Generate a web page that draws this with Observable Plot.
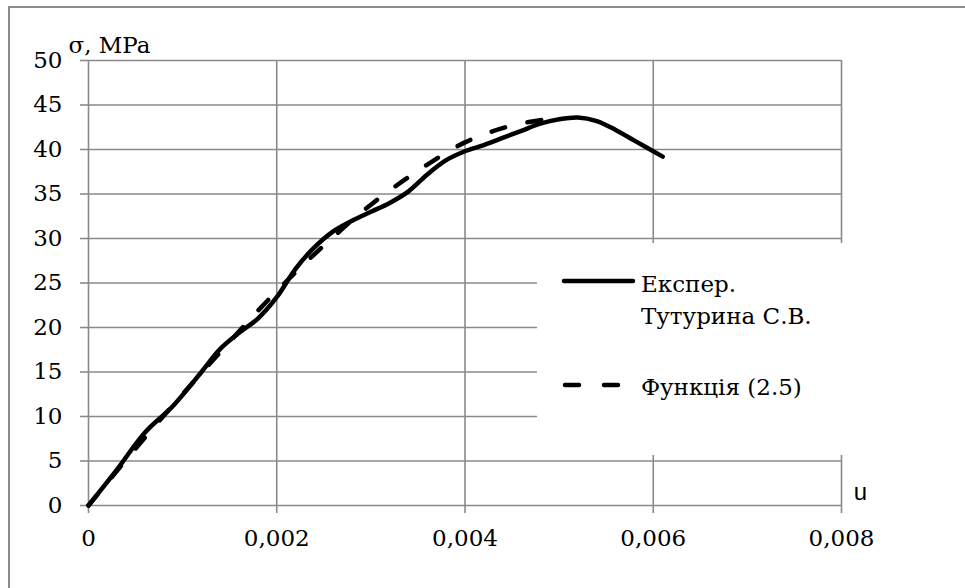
<!DOCTYPE html>
<html>
<head>
<meta charset="utf-8">
<script src="https://cdn.jsdelivr.net/npm/d3@7"></script>
<script src="https://cdn.jsdelivr.net/npm/@observablehq/plot@0.6"></script>
<style>
  html, body { margin: 0; padding: 0; background: #fff; overflow: hidden; }
  #wrap { position: relative; width: 965px; height: 588px; overflow: hidden; background: #fff; }
  #frame { position: absolute; left: 8px; top: 6px; width: 1000px; height: 1000px; border: 2px solid #8b8b8b; box-sizing: border-box; }
  #chart { position: absolute; left: 0; top: 0; }
  #legend { position: absolute; left: 537px; top: 243px; width: 330px; height: 212px; background: #fff;
            font-family: "DejaVu Serif", serif; font-size: 23px; line-height: 32px; color: #000; }
  #legend .t { position: absolute; left: 104px; white-space: nowrap; }
  #legend svg { position: absolute; left: 0; top: 0; }
</style>
</head>
<body>
<div id="wrap">
  <div id="frame"></div>
  <div id="chart"></div>
  <div id="legend">
    <svg width="110" height="212">
      <line id="ls1" x1="27" x2="96" y1="38" y2="38" stroke="#000" stroke-width="4.5" stroke-linecap="round"></line>
      <line id="ls2" x1="28" x2="86" y1="142" y2="142" stroke="#000" stroke-width="4.5" stroke-linecap="round" stroke-dasharray="14,25"></line>
    </svg>
    <div class="t" id="lt1" style="top:25px">Експер.<br>Тутурина С.В.</div>
    <div class="t" id="lt2" style="top:128px">Функція (2.5)</div>
  </div>
</div>
<script>
// Experimental curve (Тутурина С.В.)
const expU = [0, 0.0003, 0.0006, 0.0009, 0.0012, 0.0014, 0.0016, 0.0018, 0.002, 0.0022, 0.0024, 0.0026, 0.0028, 0.003, 0.0032, 0.0034, 0.0036, 0.0038, 0.004, 0.0042, 0.0044, 0.0046, 0.0048, 0.005, 0.0052, 0.0054, 0.0056, 0.0058, 0.0061];
const expS = [0, 4.0, 8.2, 11.2, 15.0, 17.6, 19.4, 21.0, 23.4, 26.6, 29.0, 30.8, 32.0, 33.0, 34.0, 35.3, 37.2, 38.8, 39.8, 40.5, 41.3, 42.1, 42.9, 43.4, 43.6, 43.2, 42.2, 41.0, 39.2];
// Function (2.5)
const fnU = [0, 0.0005, 0.001, 0.0015, 0.002, 0.0025, 0.003, 0.0035, 0.004, 0.0045, 0.005];
const fnS = [0, 6.4, 12.5, 18.4, 24.1, 29.2, 33.8, 37.6, 40.8, 42.7, 43.6];

const xTicks = [0, 0.002, 0.004, 0.006, 0.008];
const xTickLabels = ["0", "0,002", "0,004", "0,006", "0,008"];
const yTicks = [0, 5, 10, 15, 20, 25, 30, 35, 40, 45, 50];
const yTitle = "σ, MPa";
const xTitle = "u";
const seriesNames = ["Експер. Тутурина С.В.", "Функція (2.5)"];

const expData = expU.map((u, i) => ({u, s: expS[i]}));
const fnData = fnU.map((u, i) => ({u, s: fnS[i]}));

const grid = "#8a8a8a";
const chart = Plot.plot({
  width: 965,
  height: 588,
  marginLeft: 88,
  marginRight: 124,
  marginTop: 60,
  marginBottom: 83,
  x: {domain: [0, 0.008]},
  y: {domain: [0, 50]},
  style: {fontFamily: "'DejaVu Serif', serif", fontSize: "23px", background: "transparent", color: "#000"},
  marks: [
    Plot.gridY(yTicks, {stroke: grid, strokeOpacity: 1, strokeWidth: 1.6}),
    Plot.gridX(xTicks, {stroke: grid, strokeOpacity: 1, strokeWidth: 1.6}),
    Plot.axisY(yTicks, {tickSize: 8, tickPadding: 18, stroke: grid, strokeWidth: 1.6, fill: "#000", label: null, tickFormat: d => String(d)}),
    Plot.axisX(xTicks, {tickSize: 8, tickPadding: 16, stroke: grid, strokeWidth: 1.6, fill: "#000", label: null, tickFormat: (d, i) => xTickLabels[i]}),
    Plot.line(fnData, {x: "u", y: "s", stroke: "#000", strokeWidth: 4.5, strokeDasharray: "14,23", strokeLinecap: "round", curve: "catmull-rom"}),
    Plot.line(expData, {x: "u", y: "s", stroke: "#000", strokeWidth: 4.5, strokeLinecap: "round", curve: "catmull-rom"}),
    Plot.text([yTitle], {frameAnchor: "top-left", dx: -20, dy: -8, textAnchor: "start", lineAnchor: "bottom", fill: "#000"}),
    Plot.text([xTitle], {frameAnchor: "bottom-right", dx: 19, dy: -13, textAnchor: "middle", lineAnchor: "middle", fill: "#000", fontFamily: "'Liberation Sans', Arial, sans-serif", fontSize: 24})
  ]
});
document.getElementById("chart").appendChild(chart);
</script>
</body>
</html>
